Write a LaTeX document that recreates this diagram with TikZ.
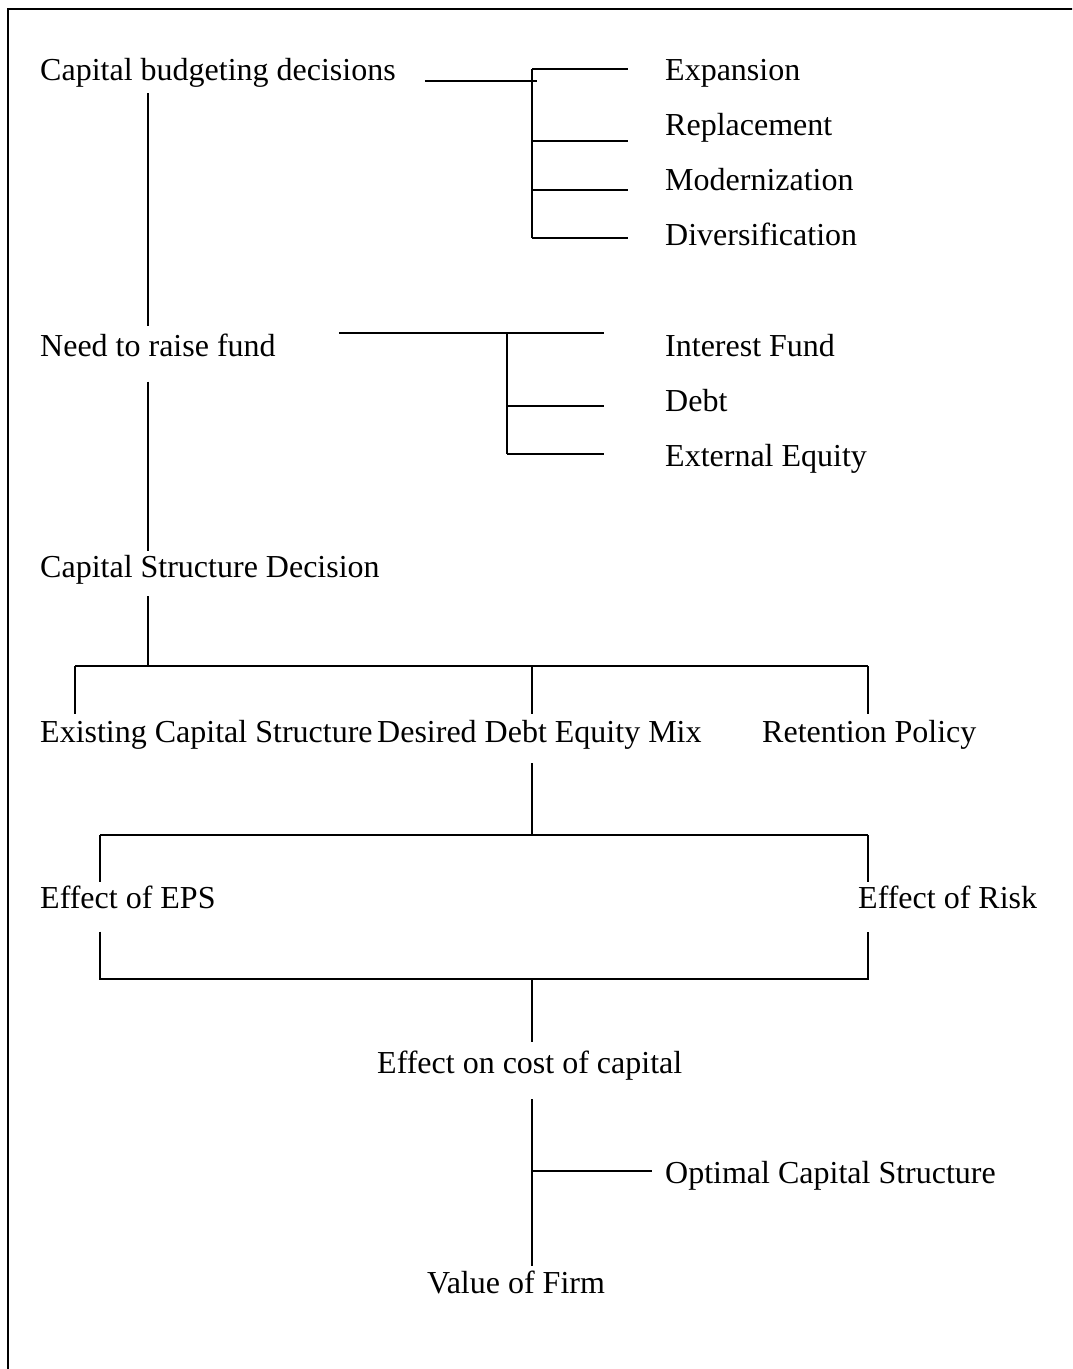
\documentclass[tikz,border=0pt]{standalone}
\usepackage{fontspec}
\setmainfont{Liberation Serif}

\tikzset{
  item/.style = {anchor=base west, inner sep=0pt, font=\fontsize{32}{38}\selectfont},
  link/.style = {line width=1.8pt},
}

\begin{document}
\begin{tikzpicture}[x=1pt, y=-1pt]
\useasboundingbox (0,0) rectangle (1072,1369);
\clip (0,0) rectangle (1072,1369);
\draw[line width=2pt] (8,9) rectangle (1200,1500);

% labels
\node[item] (cbd)   at (40,80)    {Capital budgeting decisions};
\node[item] (exp)   at (665,80)   {Expansion};
\node[item] (rep)   at (665,135)  {Replacement};
\node[item] (mod)   at (665,190)  {Modernization};
\node[item] (div)   at (665,245)  {Diversification};
\node[item] (nrf)   at (40,356)   {Need to raise fund};
\node[item] (inf)   at (665,356)  {Interest Fund};
\node[item] (debt)  at (665,411)  {Debt};
\node[item] (exeq)  at (665,466)  {External Equity};
\node[item] (csd)   at (40,577)   {Capital Structure Decision};
\node[item] (ecs)   at (40,742)   {Existing Capital Structure};
\node[item] (ddem)  at (377,742)  {Desired Debt Equity Mix};
\node[item] (rp)    at (762,742)  {Retention Policy};
\node[item] (eeps)  at (40,908)   {Effect of EPS};
\node[item] (erisk) at (858,908)  {Effect of Risk};
\node[item] (ecc)   at (377,1073) {Effect on cost of capital};
\node[item] (ocs)   at (665,1183) {Optimal Capital Structure};
\node[item] (vof)   at (427,1293) {Value of Firm};

% junction points
\coordinate (tx)  at (148,0);
\coordinate (cbj) at (537,81);
\coordinate (cb0) at (532,69);
\coordinate (cb1) at (532,141);
\coordinate (cb2) at (532,190);
\coordinate (cb3) at (532,238);
\coordinate (nf0) at (507,333);
\coordinate (nf1) at (507,406);
\coordinate (nf2) at (507,454);
\coordinate (r0)  at (148,666);
\coordinate (rl)  at (75,666);
\coordinate (rm)  at (532,666);
\coordinate (rr)  at (868,666);
\coordinate (em)  at (532,835);
\coordinate (el)  at (100,835);
\coordinate (er)  at (868,835);
\coordinate (fl)  at (100,979);
\coordinate (fm)  at (532,979);
\coordinate (fr)  at (868,979);
\coordinate (oc)  at (532,1171);

% capital budgeting
\draw[link, shorten <=29pt] (cbd.east |- cbj) -- (cbj);
\draw[link] (cb0) -- (cb3);
\foreach \c/\n in {cb0/exp, cb1/rep, cb2/mod, cb3/div}
  \draw[link, shorten >=37pt] (\c) -- (\c -| \n.west);

% funds
\draw[link, shorten <=6pt, shorten >=7pt] (cbd.south -| tx) -- (nrf.north -| tx);
\draw[link, shorten <=63pt] (nrf.east |- nf0) -- (nf0) -- (nf2);
\foreach \c/\n in {nf0/inf, nf1/debt, nf2/exeq}
  \draw[link, shorten >=61pt] (\c) -- (\c -| \n.west);

% capital structure
\draw[link, shorten <=25pt, shorten >=4pt] (nrf.south -| tx) -- (csd.north -| tx);
\draw[link, shorten <=12pt] (csd.south -| tx) -- (r0);
\draw[link] (rl) -- (rr);
\draw[link, shorten >=6pt] (rl) -- (rl |- ecs.north);
\draw[link, shorten >=6pt] (rm) -- (rm |- ddem.north);
\draw[link, shorten >=6pt] (rr) -- (rr |- rp.north);

% effects
\draw[link, shorten <=14pt] (ddem.south -| em) -- (em);
\draw[link] (el) -- (er);
\draw[link, shorten >=3pt] (el) -- (el |- eeps.north);
\draw[link, shorten >=3pt] (er) -- (er |- erisk.north);
\draw[link, shorten <=23pt, shorten >=23pt] (eeps.south -| fl) -- (fl) -- (fr) -- (erisk.south -| fr);
\draw[link, shorten >=8pt] (fm) -- (fm |- ecc.north);

% value
\draw[link, shorten <=19pt, shorten >=4pt] (ecc.south -| fm) -- (vof.north -| fm);
\draw[link, shorten >=13pt] (oc) -- (oc -| ocs.west);
\end{tikzpicture}
\end{document}
